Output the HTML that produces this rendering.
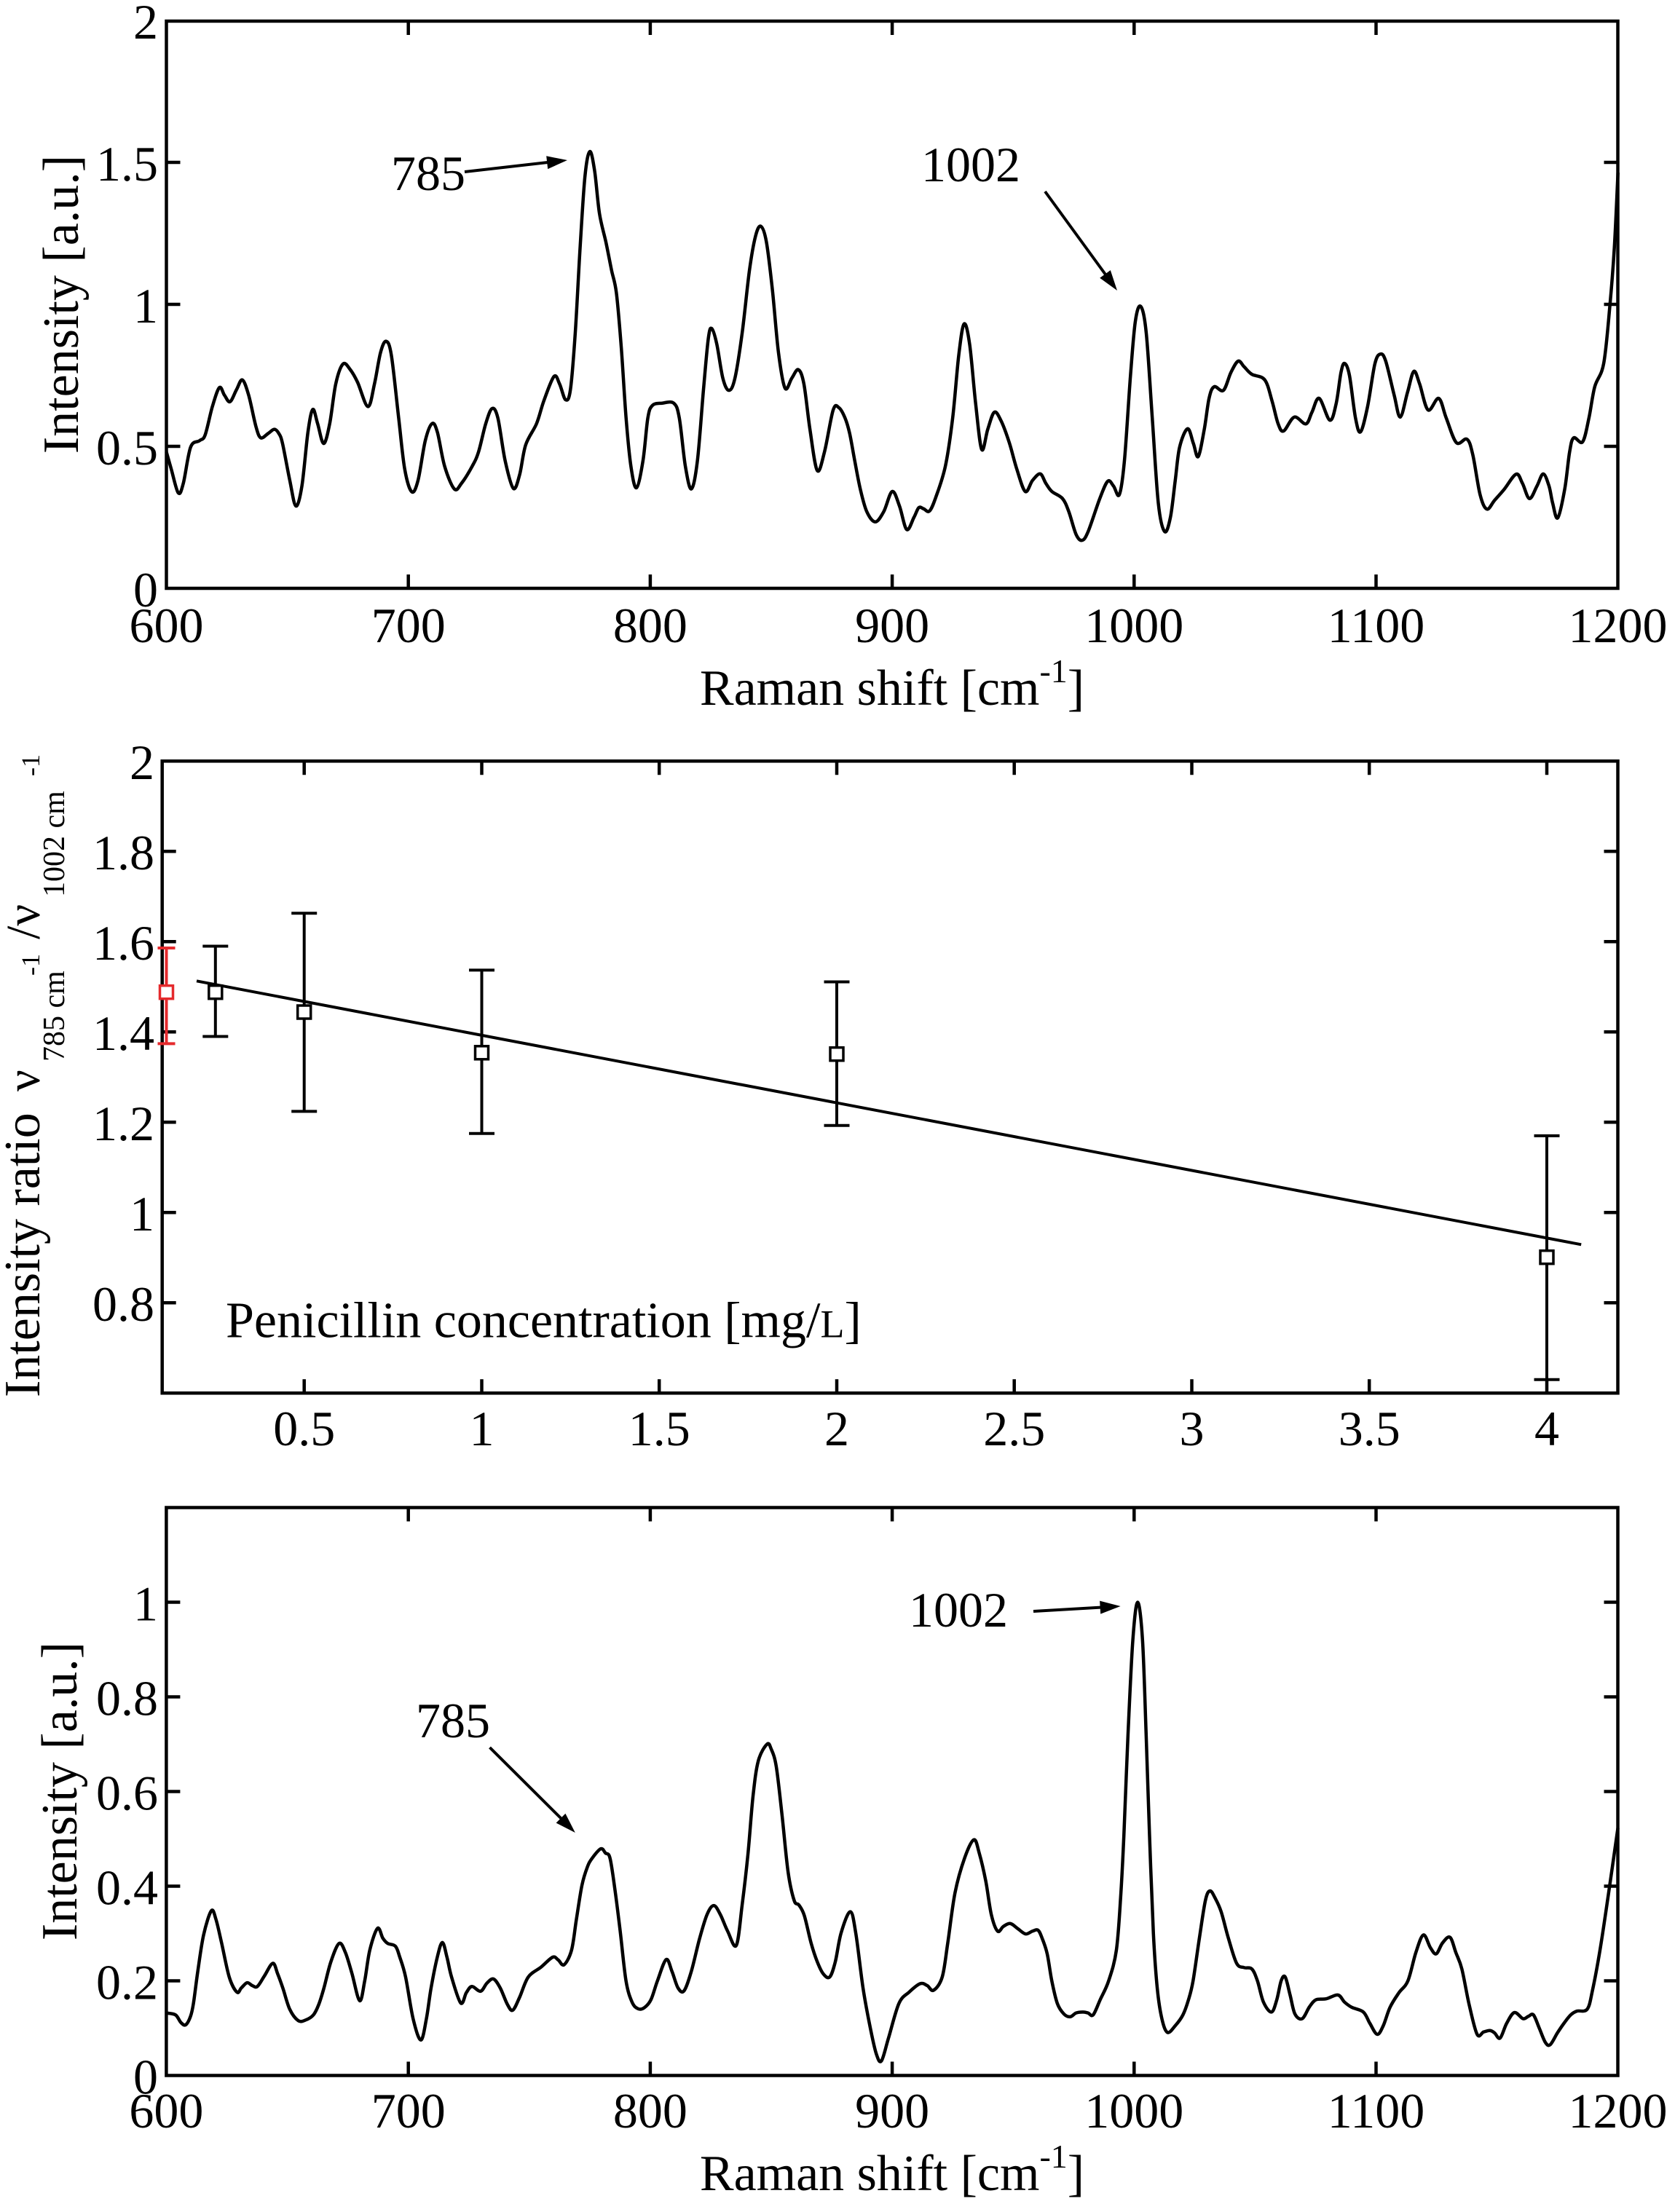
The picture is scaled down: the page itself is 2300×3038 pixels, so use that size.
<!DOCTYPE html>
<html><head><meta charset="utf-8"><style>
html,body{margin:0;padding:0;background:#fff;}
svg{display:block;}
text{font-family:"Liberation Serif","Times New Roman",serif;fill:#000;}
</style></head><body>
<svg width="2300" height="3038" viewBox="0 0 2300 3038" xmlns="http://www.w3.org/2000/svg" font-family="Liberation Serif, Times New Roman, serif">
<rect x="0" y="0" width="2300" height="3038" fill="#fff"/>

<!-- ============ TOP PANEL ============ -->
<g stroke="#000" stroke-width="4.5" fill="none">
<rect x="228.5" y="29" width="1993" height="779"/>
<path d="M560.7 808v-19M892.9 808v-19M1225.1 808v-19M1557.3 808v-19M1889.5 808v-19
M560.7 29v19M892.9 29v19M1225.1 29v19M1557.3 29v19M1889.5 29v19
M228.5 613h19M228.5 418h19M228.5 223h19
M2221.5 613h-19M2221.5 418h-19M2221.5 223h-19"/>
</g>
<g transform="matrix(3.322,0,0,-390,-1764.7,808)">
<polyline class="smooth" fill="none" stroke="#000" stroke-width="4.5" stroke-linejoin="round" vector-effect="non-scaling-stroke" points="600,0.48 602,0.42 604.9,0.336 607,0.37 610,0.497 613.7,0.52 616,0.54 619,0.64 621.9,0.707 624,0.68 626.3,0.657 629,0.70 631.4,0.734 634,0.68 637,0.57 639,0.53 642,0.545 644.6,0.56 646.5,0.545 648,0.51 651,0.38 653.5,0.29 656,0.36 658.5,0.55 660.5,0.63 662.5,0.58 665,0.51 667.5,0.58 670,0.72 673,0.79 676,0.77 679,0.726 683.3,0.64 686,0.72 688.5,0.83 690.8,0.87 693,0.82 696,0.6 698.5,0.42 701.4,0.34 704,0.38 707,0.52 709.8,0.58 712,0.55 715,0.43 719,0.35 722,0.37 726.4,0.43 729,0.48 732,0.58 734.6,0.633 737,0.6 740,0.45 743.4,0.352 746,0.40 748.5,0.505 753,0.58 756,0.66 760.2,0.746 762.5,0.72 765,0.664 767,0.7 769,0.9 771,1.2 773,1.45 775,1.538 777,1.47 779,1.32 781.7,1.218 784,1.12 786,1.04 788,0.85 790,0.6 792,0.43 794.3,0.354 797,0.45 799,0.6 800.9,0.644 804.9,0.652 809.7,0.652 812,0.6 814.5,0.43 817,0.35 819.5,0.45 822,0.7 824,0.88 825.4,0.915 827.5,0.86 830,0.74 832.5,0.697 835,0.74 838,0.9 841,1.12 843.5,1.24 845.7,1.275 848,1.22 850.5,1.05 853,0.83 855.7,0.705 858.5,0.74 861.2,0.77 863.5,0.72 866,0.56 869,0.415 872,0.48 875.6,0.628 878,0.636 880.5,0.6 882.4,0.546 884.5,0.45 886.8,0.35 889.5,0.27 893,0.234 896.5,0.27 900,0.341 903,0.29 906,0.207 909,0.25 911,0.284 913,0.28 915.4,0.272 918,0.32 922,0.431 925,0.6 927.5,0.82 929.7,0.931 932,0.86 934.5,0.65 937,0.489 939.5,0.56 942.2,0.62 945,0.59 948.4,0.513 951.5,0.42 955,0.341 958,0.38 961.2,0.403 963.5,0.37 966,0.341 970.4,0.316 973,0.27 976,0.19 978.5,0.169 981,0.2 985.8,0.316 989.1,0.377 991.5,0.36 993.9,0.33 996,0.45 998.5,0.75 1000.5,0.94 1002.7,0.993 1005,0.9 1007.5,0.6 1010,0.3 1012.6,0.2 1015,0.25 1017,0.38 1018.8,0.497 1022.1,0.562 1024.5,0.51 1026.5,0.464 1029,0.56 1031,0.67 1033.1,0.71 1036.9,0.697 1040,0.76 1043,0.8 1045.5,0.78 1048.6,0.754 1054,0.734 1057,0.66 1059.5,0.58 1061.8,0.554 1066.2,0.603 1071,0.579 1073.5,0.62 1076.5,0.669 1080.9,0.592 1083.5,0.65 1085.5,0.76 1087,0.792 1089,0.75 1091.5,0.6 1093.6,0.551 1096.5,0.64 1099.5,0.79 1101.8,0.825 1104,0.8 1107.5,0.68 1110,0.603 1113,0.69 1115.6,0.764 1118,0.72 1121.5,0.628 1125.9,0.669 1129,0.6 1133.2,0.513 1137.6,0.525 1140,0.47 1143,0.33 1145.8,0.279 1149,0.31 1153,0.349 1157.9,0.402 1160.5,0.37 1163.4,0.316 1166.5,0.36 1169.1,0.403 1171.5,0.36 1173,0.3 1175.1,0.248 1178,0.35 1180,0.48 1181.7,0.53 1185.4,0.516 1188,0.6 1190.4,0.71 1194.1,0.792 1196.7,1.0 1198.5,1.2 1200,1.464"/>
</g>
<!-- annotations top -->
<text x="537" y="261" font-size="68">785</text>
<line x1="638" y1="236" x2="752" y2="223" stroke="#000" stroke-width="4"/>
<polygon points="779,220 752.2,232.1 750.2,214.3" fill="#000"/>
<text x="1265" y="249" font-size="68">1002</text>
<line x1="1435" y1="263" x2="1518" y2="377" stroke="#000" stroke-width="4"/>
<polygon points="1534,399 1510.2,381.7 1524.8,371.1" fill="#000"/>
<!-- tick labels top -->
<g font-size="68" text-anchor="end">
<text x="217" y="833">0</text>
<text x="217" y="638">0.5</text>
<text x="217" y="443">1</text>
<text x="217" y="248">1.5</text>
<text x="217" y="53">2</text>
</g>
<g font-size="68" text-anchor="middle">
<text x="228.5" y="882">600</text>
<text x="560.7" y="882">700</text>
<text x="892.9" y="882">800</text>
<text x="1225.1" y="882">900</text>
<text x="1557.3" y="882">1000</text>
<text x="1889.5" y="882">1100</text>
<text x="2221.5" y="882">1200</text>
</g>
<text x="1225" y="968" font-size="70" text-anchor="middle">Raman shift [cm<tspan font-size="46" dy="-31">-1</tspan><tspan dy="31">]</tspan></text>
<text transform="translate(107,418) rotate(-90)" font-size="70" text-anchor="middle">Intensity [a.u.]</text>

<!-- ============ MIDDLE PANEL ============ -->
<g stroke="#000" stroke-width="4.5" fill="none">
<rect x="222.7" y="1045.3" width="1998.8" height="868"/>
<path d="M417.7 1913.3v-19M661.5 1913.3v-19M905.2 1913.3v-19M1149 1913.3v-19M1392.7 1913.3v-19M1636.5 1913.3v-19M1880.2 1913.3v-19M2124 1913.3v-19
M417.7 1045.3v19M661.5 1045.3v19M905.2 1045.3v19M1149 1045.3v19M1392.7 1045.3v19M1636.5 1045.3v19M1880.2 1045.3v19M2124 1045.3v19
M222.7 1789.3h19M222.7 1665.3h19M222.7 1541.3h19M222.7 1417.3h19M222.7 1293.3h19M222.7 1169.3h19
M2221.5 1789.3h-19M2221.5 1665.3h-19M2221.5 1541.3h-19M2221.5 1417.3h-19M2221.5 1293.3h-19M2221.5 1169.3h-19"/>
</g>
<!-- fit line -->
<line x1="270" y1="1347.3" x2="2171.2" y2="1709.3" stroke="#000" stroke-width="4"/>
<!-- error bars -->
<g stroke="#000" stroke-width="4" fill="#fff">
<path d="M295.8 1299.5V1423.5M278.3 1299.5h35M278.3 1423.5h35" fill="none"/>
<path d="M417.7 1254.2V1526.4M400.2 1254.2h35M400.2 1526.4h35" fill="none"/>
<path d="M661.5 1332.4V1556.8M644 1332.4h35M644 1556.8h35" fill="none"/>
<path d="M1149 1348.5V1545.7M1131.5 1348.5h35M1131.5 1545.7h35" fill="none"/>
<path d="M2124 1559.9V1894.7M2106.5 1559.9h35M2106.5 1894.7h35" fill="none"/>
<rect x="286.8" y="1353.7" width="18" height="18" stroke-width="3.5"/>
<rect x="408.7" y="1381" width="18" height="18" stroke-width="3.5"/>
<rect x="652.5" y="1436.8" width="18" height="18" stroke-width="3.5"/>
<rect x="1140" y="1438.7" width="18" height="18" stroke-width="3.5"/>
<rect x="2115" y="1717.7" width="18" height="18" stroke-width="3.5"/>
</g>
<g stroke="#e52a2d" stroke-width="4" fill="none">
<path d="M228.5 1302V1433.4M216.5 1302h24M216.5 1433.4h24"/>
<rect x="219.5" y="1353.7" width="18" height="18" stroke-width="3.5" fill="#fff"/>
</g>
<text x="310" y="1836.7" font-size="70">Penicillin concentration [mg/<tspan font-size="54">L</tspan>]</text>
<g font-size="68" text-anchor="end">
<text x="212" y="1814">0.8</text>
<text x="212" y="1690">1</text>
<text x="212" y="1566">1.2</text>
<text x="212" y="1442">1.4</text>
<text x="212" y="1318">1.6</text>
<text x="212" y="1194">1.8</text>
<text x="212" y="1070">2</text>
</g>
<g font-size="68" text-anchor="middle">
<text x="417.7" y="1985">0.5</text>
<text x="661.5" y="1985">1</text>
<text x="905.2" y="1985">1.5</text>
<text x="1149" y="1985">2</text>
<text x="1392.7" y="1985">2.5</text>
<text x="1636.5" y="1985">3</text>
<text x="1880.2" y="1985">3.5</text>
<text x="2124" y="1985">4</text>
</g>
<text transform="translate(54,1919) rotate(-90)" font-size="70">Intensity ratio</text>
<text transform="translate(54,1499) rotate(-90)" font-size="66">ν</text>
<text transform="translate(88,1458) rotate(-90)" font-size="42">785 cm</text>
<text transform="translate(54,1340) rotate(-90)" font-size="36">-1</text>
<text transform="translate(54,1290) rotate(-90)" font-size="66">/ν</text>
<text transform="translate(88,1232) rotate(-90)" font-size="42">1002 cm</text>
<text transform="translate(54,1066) rotate(-90)" font-size="36">-1</text>

<!-- ============ BOTTOM PANEL ============ -->
<g stroke="#000" stroke-width="4.5" fill="none">
<rect x="228.4" y="2070.5" width="1993.1" height="780"/>
<path d="M560.7 2850.5v-19M892.9 2850.5v-19M1225.1 2850.5v-19M1557.3 2850.5v-19M1889.5 2850.5v-19
M560.7 2070.5v19M892.9 2070.5v19M1225.1 2070.5v19M1557.3 2070.5v19M1889.5 2070.5v19
M228.4 2720.5h19M228.4 2590.5h19M228.4 2460.5h19M228.4 2330.5h19M228.4 2200.5h19
M2221.5 2720.5h-19M2221.5 2590.5h-19M2221.5 2460.5h-19M2221.5 2330.5h-19M2221.5 2200.5h-19"/>
</g>
<g transform="matrix(3.322,0,0,-650,-1764.8,2850.5)">
<polyline class="smooth" fill="none" stroke="#000" stroke-width="4.5" stroke-linejoin="round" vector-effect="non-scaling-stroke" points="600,0.132 603.8,0.128 606,0.112 608,0.107 610,0.125 611.2,0.152 613,0.22 615.4,0.297 618.6,0.348 620.5,0.33 622.8,0.281 626,0.208 629.2,0.176 631,0.185 633.4,0.196 635.5,0.19 637.6,0.188 640.5,0.21 644,0.237 646,0.215 648.2,0.184 651,0.14 654.5,0.116 657.5,0.117 660.8,0.128 663,0.15 665.1,0.184 668,0.24 671.4,0.279 674,0.26 676.7,0.216 679.9,0.158 682,0.2 684.1,0.265 687.3,0.311 689.5,0.29 691.5,0.279 694.7,0.273 696.5,0.25 698.9,0.208 702,0.12 705.2,0.075 707.5,0.12 709.4,0.184 712,0.25 714.1,0.281 716,0.25 717.9,0.208 721.7,0.153 724,0.175 726.3,0.188 729.9,0.178 732.5,0.195 735.2,0.204 738,0.185 741,0.15 743.2,0.138 746,0.165 749.6,0.208 754.9,0.229 759.7,0.25 762,0.244 764.4,0.234 767.5,0.265 769.5,0.33 771.8,0.402 774,0.44 776,0.459 779.6,0.479 781.5,0.47 783.4,0.459 785.5,0.39 787.6,0.305 790,0.2 792.5,0.155 795,0.141 797.5,0.143 800.3,0.16 803,0.2 806.6,0.245 809,0.22 811.5,0.185 814,0.179 817,0.22 820.4,0.289 823.5,0.34 826.3,0.359 829,0.34 832,0.305 835.6,0.275 838,0.36 840.4,0.467 842.5,0.59 844.7,0.665 848.3,0.7 850,0.69 852.1,0.653 854.5,0.55 857,0.43 859.5,0.37 861.5,0.36 863.7,0.338 866.5,0.28 869,0.241 871.5,0.215 874.2,0.208 876.5,0.24 878.9,0.301 882.7,0.346 885,0.3 888,0.184 891,0.1 893.5,0.045 895.6,0.031 898.5,0.079 902.8,0.152 907,0.176 911.6,0.194 914.5,0.19 917.1,0.18 920.7,0.208 923,0.28 926,0.386 930,0.46 933.8,0.498 936,0.47 938.7,0.411 941,0.34 943.6,0.305 946,0.315 948.9,0.321 952,0.31 955.2,0.299 958,0.305 960.3,0.307 962,0.29 964.1,0.257 966,0.2 968.3,0.152 971,0.13 973.6,0.124 976,0.132 978.9,0.134 981,0.132 983.1,0.128 986,0.16 989.5,0.2 992.7,0.265 994.5,0.38 995.8,0.507 997.5,0.72 999.5,0.92 1001.5,1.0 1003.5,0.92 1005,0.72 1006.4,0.507 1008,0.3 1009.6,0.184 1011.5,0.12 1013.8,0.091 1017,0.105 1020.2,0.128 1022.5,0.16 1024.4,0.2 1027,0.29 1029.5,0.37 1031.4,0.39 1033.5,0.375 1036,0.346 1039,0.29 1042.4,0.237 1045.5,0.228 1048.7,0.225 1051,0.2 1053.5,0.155 1056.8,0.134 1059,0.16 1060.8,0.2 1062.5,0.208 1064.5,0.17 1066.5,0.13 1069.5,0.12 1072.5,0.145 1075.2,0.16 1079.4,0.162 1084.3,0.17 1087,0.155 1090,0.144 1094.8,0.134 1097.5,0.11 1100.5,0.087 1103,0.105 1105.8,0.144 1109.5,0.175 1113.2,0.2 1116.5,0.26 1119.6,0.297 1122.5,0.27 1124.9,0.257 1127.5,0.28 1130.6,0.292 1133,0.26 1135.5,0.225 1138.5,0.15 1141.8,0.087 1144.5,0.092 1147.1,0.095 1149,0.09 1151.3,0.079 1154,0.11 1157.2,0.133 1160.8,0.12 1163,0.125 1165.1,0.128 1167.5,0.1 1170,0.07 1172,0.065 1175,0.09 1177.8,0.111 1180.5,0.128 1183,0.136 1187.3,0.14 1189.5,0.18 1192.6,0.265 1196,0.38 1200,0.523"/>
</g>
<!-- annotations bottom -->
<text x="571" y="2386" font-size="68">785</text>
<line x1="672.5" y1="2400" x2="771" y2="2498" stroke="#000" stroke-width="4"/>
<polygon points="789.8,2517 763.6,2503.6 776.4,2490.8" fill="#000"/>
<text x="1248" y="2234" font-size="68">1002</text>
<line x1="1419" y1="2213" x2="1511" y2="2207.6" stroke="#000" stroke-width="4"/>
<polygon points="1538.6,2206 1511.2,2216.6 1510.1,2198.6" fill="#000"/>
<g font-size="68" text-anchor="end">
<text x="217" y="2875.5">0</text>
<text x="217" y="2745.5">0.2</text>
<text x="217" y="2615.5">0.4</text>
<text x="217" y="2485.5">0.6</text>
<text x="217" y="2355.5">0.8</text>
<text x="217" y="2225.5">1</text>
</g>
<g font-size="68" text-anchor="middle">
<text x="228.4" y="2922">600</text>
<text x="560.7" y="2922">700</text>
<text x="892.9" y="2922">800</text>
<text x="1225.1" y="2922">900</text>
<text x="1557.3" y="2922">1000</text>
<text x="1889.5" y="2922">1100</text>
<text x="2221.5" y="2922">1200</text>
</g>
<text x="1225" y="3008" font-size="70" text-anchor="middle">Raman shift [cm<tspan font-size="46" dy="-31">-1</tspan><tspan dy="31">]</tspan></text>
<text transform="translate(105,2460) rotate(-90)" font-size="70" text-anchor="middle">Intensity [a.u.]</text>
</svg>
<script>
(function(){
var pls=document.querySelectorAll('polyline.smooth');
for(var k=0;k<pls.length;k++){
 var pl=pls[k];
 var raw=pl.getAttribute('points').trim().split(/\s+/);
 var pts=[];
 for(var j=0;j<raw.length;j++){var a=raw[j].split(',');pts.push([+a[0],+a[1]]);}
 var d='M'+pts[0][0]+','+pts[0][1];
 for(var i=0;i<pts.length-1;i++){
  var p0=pts[i-1]||pts[i],p1=pts[i],p2=pts[i+1],p3=pts[i+2]||p2;
  var c1x=p1[0]+(p2[0]-p0[0])/6,c1y=p1[1]+(p2[1]-p0[1])/6;
  var c2x=p2[0]-(p3[0]-p1[0])/6,c2y=p2[1]-(p3[1]-p1[1])/6;
  d+=' C'+c1x.toFixed(3)+','+c1y.toFixed(4)+' '+c2x.toFixed(3)+','+c2y.toFixed(4)+' '+p2[0]+','+p2[1];
 }
 var path=document.createElementNS('http://www.w3.org/2000/svg','path');
 var at=['fill','stroke','stroke-width','stroke-linejoin','vector-effect'];
 for(var m=0;m<at.length;m++){path.setAttribute(at[m],pl.getAttribute(at[m]));}
 path.setAttribute('d',d);
 pl.parentNode.replaceChild(path,pl);
}
})();
</script>
</body></html>
